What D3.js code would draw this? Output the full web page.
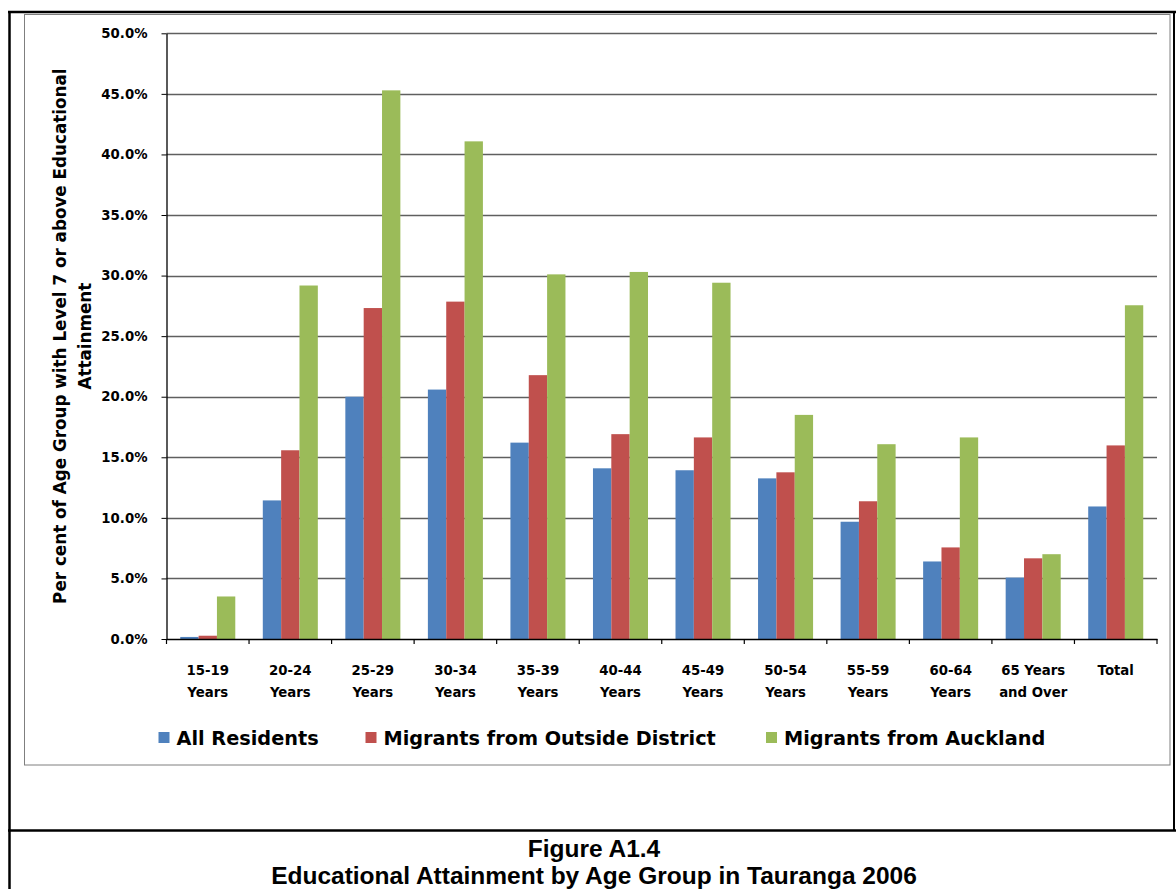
<!DOCTYPE html>
<html>
<head>
<meta charset="utf-8">
<script src="https://cdn.jsdelivr.net/npm/d3@7"></script>
<style>
  html, body { margin: 0; padding: 0; background: #fff; }
  svg { display: block; }
  .axis-text { font-family: "DejaVu Sans", Verdana, sans-serif; font-weight: bold; fill: #000; }
  .caption { font-family: "Liberation Sans", Arial, sans-serif; font-weight: bold; fill: #000; }
</style>
</head>
<body>
<svg id="chart" width="1176" height="889"></svg>
<script>
// Age groups along the x axis
const categories = [
  "15-19 Years", "20-24 Years", "25-29 Years", "30-34 Years", "35-39 Years",
  "40-44 Years", "45-49 Years", "50-54 Years", "55-59 Years", "60-64 Years",
  "65 Years and Over", "Total"
];

// Series names (legend order)
const seriesNames = ["All Residents", "Migrants from Outside District", "Migrants from Auckland"];

// Share of each age group with Level 7 or above attainment (fractions)
const allResidents = [0.0017, 0.1144, 0.2000, 0.2059, 0.1621, 0.1409, 0.1393, 0.1326, 0.0968, 0.0640, 0.0507, 0.1094];
const migrantsOutside = [0.0027, 0.1558, 0.2732, 0.2785, 0.2178, 0.1691, 0.1664, 0.1376, 0.1137, 0.0756, 0.0666, 0.1598];
const migrantsAuckland = [0.0351, 0.2918, 0.4529, 0.4108, 0.3010, 0.3030, 0.2941, 0.1850, 0.1608, 0.1664, 0.0700, 0.2755];

// Y axis ticks
const yTicks = [0, 0.05, 0.10, 0.15, 0.20, 0.25, 0.30, 0.35, 0.40, 0.45, 0.50];

const yTitleLines = ["Per cent of Age Group with Level 7 or above Educational", "Attainment"];
const captionLines = ["Figure A1.4", "Educational Attainment by Age Group in Tauranga 2006"];

const seriesValues = [allResidents, migrantsOutside, migrantsAuckland];
const colors = ["#4F81BD", "#C0504D", "#9BBB59"];

const svg = d3.select("#chart");

// ---- page frame ----
svg.append("line").attr("x1", 8).attr("x2", 1176).attr("y1", 12).attr("y2", 12)
  .attr("stroke", "#000").attr("stroke-width", 2.5);
svg.append("line").attr("x1", 9.5).attr("x2", 9.5).attr("y1", 11).attr("y2", 889)
  .attr("stroke", "#000").attr("stroke-width", 2.5);
svg.append("line").attr("x1", 1174).attr("x2", 1174).attr("y1", 11).attr("y2", 831)
  .attr("stroke", "#000").attr("stroke-width", 2);
svg.append("line").attr("x1", 8).attr("x2", 1176).attr("y1", 830.5).attr("y2", 830.5)
  .attr("stroke", "#000").attr("stroke-width", 2.5);

// chart area border
svg.append("rect").attr("x", 24.5).attr("y", 14.5).attr("width", 1145.5).attr("height", 750.5)
  .attr("fill", "#fff").attr("stroke", "#7f7f7f").attr("stroke-width", 1);

// ---- scales ----
const plot = { left: 166.5, right: 1157, top: 33.3, bottom: 639 };

const x0 = d3.scaleBand().domain(categories).range([plot.left, plot.right]).padding(0);
const x1 = d3.scaleBand().domain(d3.range(seriesNames.length))
  .range([0, x0.bandwidth()]).paddingInner(0).paddingOuter(0.75);
const y = d3.scaleLinear().domain([0, 0.5]).range([plot.bottom, plot.top]);

// ---- gridlines ----
svg.append("g")
  .selectAll("line")
  .data(yTicks.filter(d => d > 0))
  .join("line")
  .attr("x1", plot.left).attr("x2", plot.right)
  .attr("y1", d => Math.round(y(d)) + 0.5).attr("y2", d => Math.round(y(d)) + 0.5)
  .attr("stroke", "#5f5f5f").attr("stroke-width", 1.4);

// ---- bars ----
const groups = svg.append("g")
  .selectAll("g")
  .data(categories)
  .join("g")
  .attr("transform", d => `translate(${x0(d)},0)`);

groups.selectAll("rect")
  .data((d, i) => seriesValues.map((vals, s) => ({ s, v: vals[i] })))
  .join("rect")
  .attr("x", d => x1(d.s))
  .attr("width", x1.bandwidth())
  .attr("y", d => y(d.v))
  .attr("height", d => y(0) - y(d.v))
  .attr("fill", d => colors[d.s]);

// ---- y axis ----
const yAxis = d3.axisLeft(y).tickValues(yTicks).tickFormat(d3.format(".1%"))
  .tickSizeInner(5).tickSizeOuter(0).tickPadding(14);
const yG = svg.append("g").attr("transform", `translate(${plot.left},0)`).call(yAxis);
yG.select(".domain").attr("stroke", "#000").attr("stroke-width", 1.3);
yG.selectAll(".tick line").attr("stroke", "#000");
yG.selectAll(".tick text").attr("class", "axis-text").style("font-size", "13.3px");

// ---- x axis ----
const xAxis = d3.axisBottom(x0).tickSize(0).tickPadding(0);
const xG = svg.append("g").attr("transform", `translate(0,${plot.bottom})`).call(xAxis);
xG.select(".domain").attr("stroke", "#000").attr("stroke-width", 1.5);
xG.selectAll(".tick text").attr("class", "axis-text").style("font-size", "13.3px")
  .attr("y", 36).attr("dy", 0);

// tick marks between categories
const boundaries = categories.map(c => x0(c)).concat([plot.right]);
xG.append("g").selectAll("line").data(boundaries).join("line")
  .attr("x1", d => d).attr("x2", d => d).attr("y1", 0).attr("y2", 5)
  .attr("stroke", "#000").attr("stroke-width", 1.2);

// wrap long category names onto two lines
function wrap(textSel, width, lineHeight) {
  textSel.each(function () {
    const text = d3.select(this);
    const words = text.text().split(/\s+/);
    const yPos = +text.attr("y");
    text.text(null);
    let line = [];
    let lineNo = 0;
    let tspan = text.append("tspan").attr("x", 0).attr("y", yPos);
    for (const w of words) {
      line.push(w);
      tspan.text(line.join(" "));
      if (tspan.node().getComputedTextLength() > width && line.length > 1) {
        line.pop();
        tspan.text(line.join(" "));
        line = [w];
        lineNo += 1;
        tspan = text.append("tspan").attr("x", 0).attr("y", yPos + lineNo * lineHeight).text(w);
      }
    }
  });
}
xG.selectAll(".tick text").call(wrap, 74, 22);

// ---- y axis title ----
const yTitle = svg.append("text").attr("class", "axis-text")
  .attr("transform", `translate(0,${(plot.top + plot.bottom) / 2}) rotate(-90)`)
  .attr("text-anchor", "middle").style("font-size", "16.8px");
yTitle.selectAll("tspan").data(yTitleLines).join("tspan")
  .attr("x", 0).attr("y", (d, i) => 66 + i * 25).text(d => d);

// ---- legend ----
const legendX = [158.5, 365.5, 766];
const legend = svg.append("g").selectAll("g").data(seriesNames).join("g")
  .attr("transform", (d, i) => `translate(${legendX[i]},0)`);
legend.append("rect").attr("x", 0).attr("y", 732).attr("width", 11).attr("height", 11)
  .attr("fill", (d, i) => colors[i]);
legend.append("text").attr("class", "axis-text").attr("x", 18).attr("y", 744.5)
  .style("font-size", "19.3px").text(d => d);

// ---- caption ----
svg.append("g").selectAll("text").data(captionLines).join("text")
  .attr("class", "caption").attr("x", 594).attr("y", (d, i) => 857 + i * 26.5)
  .attr("text-anchor", "middle").style("font-size", "24.5px").text(d => d);
</script>
</body>
</html>
